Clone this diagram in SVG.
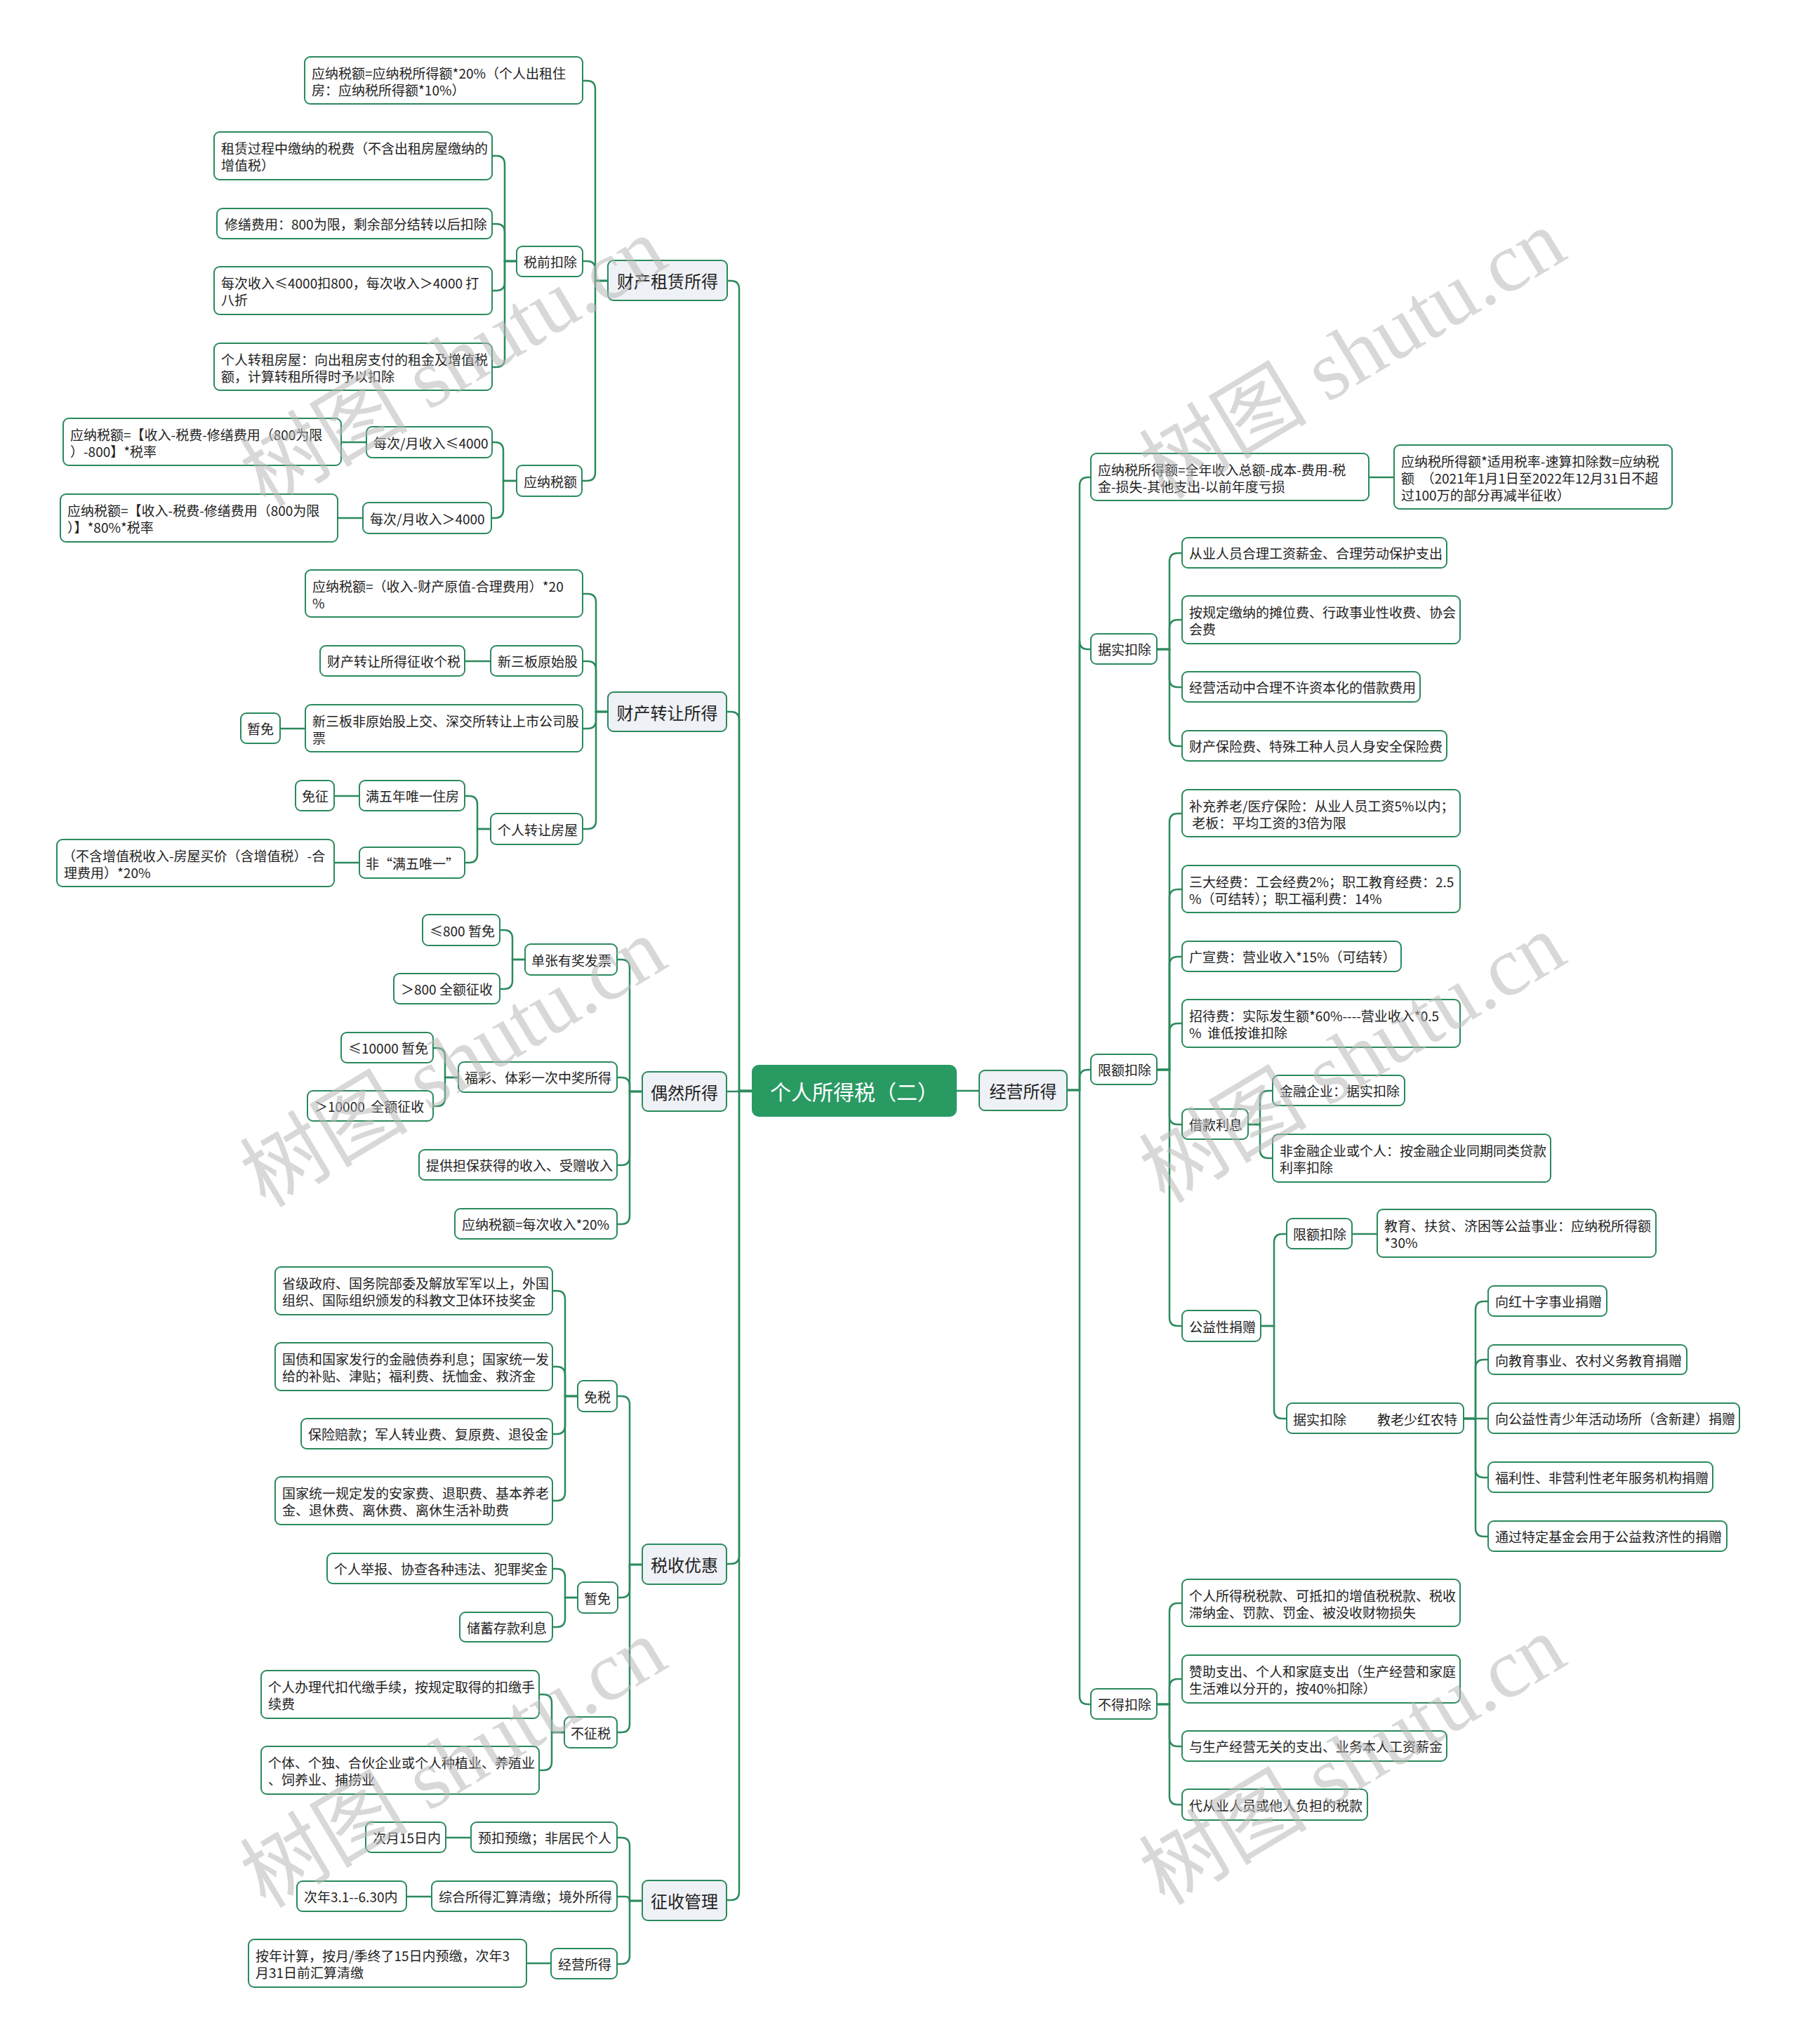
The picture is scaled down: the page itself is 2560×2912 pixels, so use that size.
<svg xmlns="http://www.w3.org/2000/svg" width="2560" height="2912" viewBox="0 0 2560 2912">
<style>
.n rect{fill:#fff;stroke:#2b8a5c;stroke-width:2}
.l1 rect{fill:#eef1f5;stroke:#2b8a5c;stroke-width:2}
.root rect{fill:#2a9a63;stroke:#2a9a63;stroke-width:2}
text{font-family:"Noto Sans CJK SC","Noto Sans",sans-serif;dominant-baseline:central;fill:#222}
.t{font-size:19px}
.l1 text{font-size:24px;text-anchor:middle}
.root text{font-size:30px;text-anchor:middle;fill:#fff}
.c path{fill:none;stroke:#2b8a5c;stroke-width:2.5}
.wm text{font-family:"Liberation Serif","Noto Sans CJK SC",serif;font-size:120px;fill:#b8b8b8;fill-opacity:0.55;text-anchor:middle}
</style>
<rect width="2560" height="2912" fill="#fff"/>
<g id="connectors" class="c">
<path d="M1072 1554 H1053 V412 Q1053 400 1041 400 H1036"/>
<path d="M1072 1554 H1053 V1026 Q1053 1014 1041 1014 H1035"/>
<path d="M1072 1555 H1035"/>
<path d="M1072 1554 H1053 V2216 Q1053 2228 1041 2228 H1035"/>
<path d="M1072 1554 H1053 V2695 Q1053 2707 1041 2707 H1035"/>
<path d="M1362 1554 H1395"/>
<path d="M1520 1553 H1538 V692 Q1538 680 1550 680 H1554"/>
<path d="M1520 1553 H1538 V913 Q1538 925 1550 925 H1554"/>
<path d="M1520 1553 H1538 V1536 Q1538 1524 1550 1524 H1554"/>
<path d="M1520 1553 H1538 V2416 Q1538 2428 1550 2428 H1554"/>
<path d="M866 400 H848 V127 Q848 115 836 115 H830"/>
<path d="M866 400 H848 V384 Q848 372 836 372 H830"/>
<path d="M866 400 H848 V673 Q848 685 836 685 H830"/>
<path d="M736 372 H719 V234 Q719 222 707 222 H701"/>
<path d="M736 372 H719 V331 Q719 319 707 319 H701"/>
<path d="M736 372 H719 V402 Q719 414 707 414 H701"/>
<path d="M736 372 H719 V511 Q719 523 707 523 H701"/>
<path d="M736 685 H717 V642 Q717 630 705 630 H701"/>
<path d="M736 685 H717 V726 Q717 738 705 738 H700"/>
<path d="M522 630 H486"/>
<path d="M517 738 H481"/>
<path d="M866 1014 H849 V858 Q849 846 837 846 H830"/>
<path d="M866 1014 H849 V954 Q849 942 837 942 H830"/>
<path d="M866 1014 H849 V1026 Q849 1038 837 1038 H830"/>
<path d="M866 1014 H849 V1169 Q849 1181 837 1181 H830"/>
<path d="M699 942 H662"/>
<path d="M435 1038 H399"/>
<path d="M699 1181 H680 V1146 Q680 1134 668 1134 H662"/>
<path d="M699 1181 H680 V1217 Q680 1229 668 1229 H662"/>
<path d="M512 1134 H476"/>
<path d="M512 1229 H476"/>
<path d="M915 1555 H897 V1379 Q897 1367 885 1367 H879"/>
<path d="M915 1555 H897 V1547 Q897 1535 885 1535 H879"/>
<path d="M915 1555 H897 V1648 Q897 1660 885 1660 H879"/>
<path d="M915 1555 H897 V1732 Q897 1744 885 1744 H879"/>
<path d="M748 1367 H730 V1337 Q730 1325 718 1325 H712"/>
<path d="M748 1367 H730 V1397 Q730 1409 718 1409 H712"/>
<path d="M653 1535 H634 V1505 Q634 1493 622 1493 H617"/>
<path d="M653 1535 H634 V1564 Q634 1576 622 1576 H617"/>
<path d="M915 2229 H897 V2001 Q897 1989 885 1989 H879"/>
<path d="M915 2229 H897 V2264 Q897 2276 885 2276 H879"/>
<path d="M915 2229 H897 V2456 Q897 2468 885 2468 H879"/>
<path d="M823 1989 H805 V1851 Q805 1839 793 1839 H787"/>
<path d="M823 1989 H805 V1959 Q805 1947 793 1947 H787"/>
<path d="M823 1989 H805 V2031 Q805 2043 793 2043 H787"/>
<path d="M823 1989 H805 V2126 Q805 2138 793 2138 H787"/>
<path d="M823 2276 H805 V2247 Q805 2235 793 2235 H787"/>
<path d="M823 2276 H805 V2306 Q805 2318 793 2318 H787"/>
<path d="M804 2468 H786 V2426 Q786 2414 774 2414 H768"/>
<path d="M804 2468 H786 V2510 Q786 2522 774 2522 H768"/>
<path d="M915 2708 H897 V2630 Q897 2618 885 2618 H879"/>
<path d="M915 2708 H897 Q897 2702 891 2702 H879"/>
<path d="M915 2708 H897 V2786 Q897 2798 885 2798 H879"/>
<path d="M671 2618 H635"/>
<path d="M615 2702 H579"/>
<path d="M785 2797 H750"/>
<path d="M1950 680 H1986"/>
<path d="M1648 925 H1666 V800 Q1666 788 1678 788 H1684"/>
<path d="M1648 925 H1666 V895 Q1666 883 1678 883 H1684"/>
<path d="M1648 925 H1666 V967 Q1666 979 1678 979 H1684"/>
<path d="M1648 925 H1666 V1051 Q1666 1063 1678 1063 H1684"/>
<path d="M1648 1524 H1666 V1171 Q1666 1159 1678 1159 H1684"/>
<path d="M1648 1524 H1666 V1279 Q1666 1267 1678 1267 H1684"/>
<path d="M1648 1524 H1666 V1375 Q1666 1363 1678 1363 H1684"/>
<path d="M1648 1524 H1666 V1470 Q1666 1458 1678 1458 H1684"/>
<path d="M1648 1524 H1666 V1590 Q1666 1602 1678 1602 H1684"/>
<path d="M1648 1524 H1666 V1877 Q1666 1889 1678 1889 H1684"/>
<path d="M1778 1602 H1795 V1566 Q1795 1554 1807 1554 H1813"/>
<path d="M1778 1602 H1795 V1638 Q1795 1650 1807 1650 H1813"/>
<path d="M1796 1889 H1815 V1770 Q1815 1758 1827 1758 H1833"/>
<path d="M1796 1889 H1815 V2009 Q1815 2021 1827 2021 H1833"/>
<path d="M1926 1758 H1962"/>
<path d="M2085 2021 H2102 V1866 Q2102 1854 2114 1854 H2120"/>
<path d="M2085 2021 H2102 V1949 Q2102 1937 2114 1937 H2120"/>
<path d="M2085 2021 H2120"/>
<path d="M2085 2021 H2102 V2093 Q2102 2105 2114 2105 H2120"/>
<path d="M2085 2021 H2102 V2177 Q2102 2189 2114 2189 H2120"/>
<path d="M1648 2428 H1666 V2296 Q1666 2284 1678 2284 H1684"/>
<path d="M1648 2428 H1666 V2404 Q1666 2392 1678 2392 H1684"/>
<path d="M1648 2428 H1666 V2476 Q1666 2488 1678 2488 H1684"/>
<path d="M1648 2428 H1666 V2559 Q1666 2571 1678 2571 H1684"/>
</g>
<g id="root" class="root"><rect x="1072" y="1518" width="290" height="72" rx="9"/><text x="1217" y="1554">个人所得税（二）</text></g>
<g id="l1-zulin" class="l1"><rect x="866" y="371" width="170" height="57" rx="8"/><text x="951" y="399.5">财产租赁所得</text></g>
<g id="l1-zhuanrang" class="l1"><rect x="866" y="986" width="169" height="56" rx="8"/><text x="950.5" y="1014">财产转让所得</text></g>
<g id="l1-ouran" class="l1"><rect x="915" y="1527" width="120" height="56" rx="8"/><text x="975" y="1555">偶然所得</text></g>
<g id="l1-youhui" class="l1"><rect x="915" y="2200" width="120" height="57" rx="8"/><text x="975" y="2228.5">税收优惠</text></g>
<g id="l1-guanli" class="l1"><rect x="915" y="2679" width="120" height="57" rx="8"/><text x="975" y="2707.5">征收管理</text></g>
<g id="l1-jingying" class="l1"><rect x="1395" y="1525" width="125" height="57" rx="8"/><text x="1457.5" y="1553.5">经营所得</text></g>
<g id="n1" class="n"><rect x="434" y="81" width="396" height="67" rx="8"/><text class="t"><tspan x="444" y="102.5">应纳税额=应纳税所得额*20%（个人出租住</tspan><tspan x="444" y="126.5">房：应纳税所得额*10%）</tspan></text></g>
<g id="n2" class="n"><rect x="305" y="188" width="396" height="68" rx="8"/><text class="t"><tspan x="315" y="210">租赁过程中缴纳的税费（不含出租房屋缴纳的</tspan><tspan x="315" y="234">增值税）</tspan></text></g>
<g id="n3" class="n"><rect x="309" y="297" width="392" height="43" rx="8"/><text class="t" x="320" y="318.5">修缮费用：800为限，剩余部分结转以后扣除</text></g>
<g id="n4" class="n"><rect x="305" y="380" width="396" height="68" rx="8"/><text class="t"><tspan x="315" y="402">每次收入≤4000扣800，每次收入＞4000 打</tspan><tspan x="315" y="426">八折</tspan></text></g>
<g id="n5" class="n"><rect x="305" y="489" width="396" height="67" rx="8"/><text class="t"><tspan x="315" y="510.5">个人转租房屋：向出租房支付的租金及增值税</tspan><tspan x="315" y="534.5">额，计算转租所得时予以扣除</tspan></text></g>
<g id="n6" class="n"><rect x="736" y="351" width="94" height="43" rx="8"/><text class="t" x="746" y="372.5">税前扣除</text></g>
<g id="n7" class="n"><rect x="90" y="596" width="396" height="67" rx="8"/><text class="t"><tspan x="100" y="617.5">应纳税额=【收入-税费-修缮费用（800为限</tspan><tspan x="100" y="641.5">）-800】*税率</tspan></text></g>
<g id="n8" class="n"><rect x="522" y="608" width="179" height="44" rx="8"/><text class="t" x="532" y="630">每次/月收入≤4000</text></g>
<g id="n9" class="n"><rect x="86" y="704" width="395" height="68" rx="8"/><text class="t"><tspan x="96" y="726">应纳税额=【收入-税费-修缮费用（800为限</tspan><tspan x="96" y="750">）】*80%*税率</tspan></text></g>
<g id="n10" class="n"><rect x="517" y="716" width="183" height="44" rx="8"/><text class="t" x="527" y="738">每次/月收入＞4000</text></g>
<g id="n11" class="n"><rect x="736" y="663" width="93" height="44" rx="8"/><text class="t" x="746" y="685">应纳税额</text></g>
<g id="n12" class="n"><rect x="435" y="812" width="395" height="67" rx="8"/><text class="t"><tspan x="445" y="833.5">应纳税额=（收入-财产原值-合理费用）*20</tspan><tspan x="445" y="857.5">%</tspan></text></g>
<g id="n13" class="n"><rect x="456" y="920" width="206" height="43" rx="8"/><text class="t" x="466" y="941.5">财产转让所得征收个税</text></g>
<g id="n14" class="n"><rect x="699" y="920" width="131" height="43" rx="8"/><text class="t" x="709" y="941.5">新三板原始股</text></g>
<g id="n15" class="n"><rect x="435" y="1004" width="395" height="67" rx="8"/><text class="t"><tspan x="445" y="1025.5">新三板非原始股上交、深交所转让上市公司股</tspan><tspan x="445" y="1049.5">票</tspan></text></g>
<g id="n16" class="n"><rect x="343" y="1016" width="56" height="43" rx="8"/><text class="t" x="352" y="1037.5">暂免</text></g>
<g id="n17" class="n"><rect x="421" y="1112" width="55" height="43" rx="8"/><text class="t" x="430" y="1133.5">免征</text></g>
<g id="n18" class="n"><rect x="512" y="1112" width="150" height="43" rx="8"/><text class="t" x="521" y="1133.5">满五年唯一住房</text></g>
<g id="n19" class="n"><rect x="699" y="1159" width="131" height="44" rx="8"/><text class="t" x="709" y="1181">个人转让房屋</text></g>
<g id="n20" class="n"><rect x="81" y="1196" width="395" height="67" rx="8"/><text class="t"><tspan x="89" y="1217.5">（不含增值税收入-房屋买价（含增值税）-合</tspan><tspan x="91" y="1241.5">理费用）*20%</tspan></text></g>
<g id="n21" class="n"><rect x="512" y="1207" width="150" height="44" rx="8"/><text class="t" x="521" y="1229">非“满五唯一”</text></g>
<g id="n22" class="n"><rect x="602" y="1303" width="110" height="44" rx="8"/><text class="t" x="612" y="1325">≤800 暂免</text></g>
<g id="n23" class="n"><rect x="561" y="1387" width="151" height="43" rx="8"/><text class="t" x="571" y="1408.5">＞800 全额征收</text></g>
<g id="n24" class="n"><rect x="748" y="1345" width="131" height="44" rx="8"/><text class="t" x="757" y="1367">单张有奖发票</text></g>
<g id="n25" class="n"><rect x="486" y="1471" width="131" height="43" rx="8"/><text class="t" x="496" y="1492.5">≤10000 暂免</text></g>
<g id="n26" class="n"><rect x="438" y="1554" width="179" height="43" rx="8"/><text class="t" x="448" y="1575.5" xml:space="preserve">＞10000  全额征收</text></g>
<g id="n27" class="n"><rect x="653" y="1513" width="226" height="43" rx="8"/><text class="t" x="662" y="1534.5">福彩、体彩一次中奖所得</text></g>
<g id="n28" class="n"><rect x="597" y="1638" width="282" height="43" rx="8"/><text class="t" x="607" y="1659.5">提供担保获得的收入、受赠收入</text></g>
<g id="n29" class="n"><rect x="648" y="1722" width="231" height="43" rx="8"/><text class="t" x="658" y="1743.5">应纳税额=每次收入*20%</text></g>
<g id="n30" class="n"><rect x="392" y="1805" width="395" height="68" rx="8"/><text class="t"><tspan x="402" y="1827">省级政府、国务院部委及解放军军以上，外国</tspan><tspan x="402" y="1851">组织、国际组织颁发的科教文卫体环技奖金</tspan></text></g>
<g id="n31" class="n"><rect x="392" y="1913" width="395" height="68" rx="8"/><text class="t"><tspan x="402" y="1935">国债和国家发行的金融债券利息；国家统一发</tspan><tspan x="402" y="1959">给的补贴、津贴；福利费、抚恤金、救济金</tspan></text></g>
<g id="n32" class="n"><rect x="429" y="2021" width="358" height="43" rx="8"/><text class="t" x="439" y="2042.5">保险赔款；军人转业费、复原费、退役金</text></g>
<g id="n33" class="n"><rect x="392" y="2104" width="395" height="68" rx="8"/><text class="t"><tspan x="402" y="2126">国家统一规定发的安家费、退职费、基本养老</tspan><tspan x="402" y="2150">金、退休费、离休费、离休生活补助费</tspan></text></g>
<g id="n34" class="n"><rect x="823" y="1967" width="56" height="44" rx="8"/><text class="t" x="832" y="1989">免税</text></g>
<g id="n35" class="n"><rect x="466" y="2213" width="321" height="43" rx="8"/><text class="t" x="476" y="2234.5">个人举报、协查各种违法、犯罪奖金</text></g>
<g id="n36" class="n"><rect x="823" y="2254" width="57" height="44" rx="8"/><text class="t" x="832" y="2276">暂免</text></g>
<g id="n37" class="n"><rect x="655" y="2297" width="132" height="42" rx="8"/><text class="t" x="665" y="2318">储蓄存款利息</text></g>
<g id="n38" class="n"><rect x="372" y="2380" width="396" height="68" rx="8"/><text class="t"><tspan x="382" y="2402">个人办理代扣代缴手续，按规定取得的扣缴手</tspan><tspan x="382" y="2426">续费</tspan></text></g>
<g id="n39" class="n"><rect x="804" y="2446" width="75" height="44" rx="8"/><text class="t" x="813" y="2468">不征税</text></g>
<g id="n40" class="n"><rect x="372" y="2488" width="396" height="68" rx="8"/><text class="t"><tspan x="382" y="2510">个体、个独、合伙企业或个人种植业、养殖业</tspan><tspan x="382" y="2534">、饲养业、捕捞业</tspan></text></g>
<g id="n41" class="n"><rect x="521" y="2596" width="114" height="43" rx="8"/><text class="t" x="531" y="2617.5">次月15日内</text></g>
<g id="n42" class="n"><rect x="671" y="2596" width="208" height="43" rx="8"/><text class="t" x="681" y="2617.5">预扣预缴；非居民个人</text></g>
<g id="n43" class="n"><rect x="423" y="2680" width="156" height="43" rx="8"/><text class="t" x="433" y="2701.5">次年3.1--6.30内</text></g>
<g id="n44" class="n"><rect x="615" y="2680" width="264" height="43" rx="8"/><text class="t" x="625" y="2701.5">综合所得汇算清缴；境外所得</text></g>
<g id="n45" class="n"><rect x="354" y="2763" width="396" height="68" rx="8"/><text class="t"><tspan x="364" y="2785">按年计算，按月/季终了15日内预缴，次年3</tspan><tspan x="364" y="2809">月31日前汇算清缴</tspan></text></g>
<g id="n46" class="n"><rect x="785" y="2776" width="94" height="43" rx="8"/><text class="t" x="795" y="2797.5">经营所得</text></g>
<g id="n47" class="n"><rect x="1554" y="646" width="396" height="67" rx="8"/><text class="t"><tspan x="1564" y="667.5">应纳税所得额=全年收入总额-成本-费用-税</tspan><tspan x="1564" y="691.5">金-损失-其他支出-以前年度亏损</tspan></text></g>
<g id="n48" class="n"><rect x="1986" y="634" width="396" height="91" rx="8"/><text class="t"><tspan x="1996" y="655.5">应纳税所得额*适用税率-速算扣除数=应纳税</tspan><tspan x="1996" y="679.5">额　（2021年1月1日至2022年12月31日不超</tspan><tspan x="1996" y="703.5">过100万的部分再减半征收）</tspan></text></g>
<g id="n49" class="n"><rect x="1554" y="903" width="94" height="43" rx="8"/><text class="t" x="1564" y="924.5">据实扣除</text></g>
<g id="n50" class="n"><rect x="1684" y="766" width="377" height="43" rx="8"/><text class="t" x="1694" y="787.5">从业人员合理工资薪金、合理劳动保护支出</text></g>
<g id="n51" class="n"><rect x="1684" y="849" width="396" height="68" rx="8"/><text class="t"><tspan x="1694" y="871">按规定缴纳的摊位费、行政事业性收费、协会</tspan><tspan x="1694" y="895">会费</tspan></text></g>
<g id="n52" class="n"><rect x="1684" y="957" width="339" height="43" rx="8"/><text class="t" x="1694" y="978.5">经营活动中合理不许资本化的借款费用</text></g>
<g id="n53" class="n"><rect x="1684" y="1041" width="377" height="43" rx="8"/><text class="t" x="1694" y="1062.5">财产保险费、特殊工种人员人身安全保险费</text></g>
<g id="n54" class="n"><rect x="1554" y="1502" width="94" height="43" rx="8"/><text class="t" x="1564" y="1523.5">限额扣除</text></g>
<g id="n55" class="n"><rect x="1684" y="1125" width="396" height="67" rx="8"/><text class="t"><tspan x="1694" y="1146.5">补充养老/医疗保险：从业人员工资5%以内；</tspan><tspan x="1694" y="1170.5"> 老板：平均工资的3倍为限</tspan></text></g>
<g id="n56" class="n"><rect x="1684" y="1233" width="396" height="67" rx="8"/><text class="t"><tspan x="1694" y="1254.5">三大经费：工会经费2%；职工教育经费：2.5</tspan><tspan x="1694" y="1278.5">%（可结转）；职工福利费：14%</tspan></text></g>
<g id="n57" class="n"><rect x="1684" y="1341" width="312" height="43" rx="8"/><text class="t" x="1694" y="1362.5">广宣费：营业收入*15%（可结转）</text></g>
<g id="n58" class="n"><rect x="1684" y="1424" width="396" height="68" rx="8"/><text class="t"><tspan x="1694" y="1446">招待费：实际发生额*60%----营业收入*0.5</tspan><tspan x="1694" y="1470" xml:space="preserve">%  谁低按谁扣除</tspan></text></g>
<g id="n59" class="n"><rect x="1684" y="1580" width="94" height="43" rx="8"/><text class="t" x="1694" y="1601.5">借款利息</text></g>
<g id="n60" class="n"><rect x="1813" y="1532" width="188" height="43" rx="8"/><text class="t" x="1823" y="1553.5">金融企业：据实扣除</text></g>
<g id="n61" class="n"><rect x="1813" y="1616" width="396" height="68" rx="8"/><text class="t"><tspan x="1823" y="1638">非金融企业或个人：按金融企业同期同类贷款</tspan><tspan x="1823" y="1662">利率扣除</tspan></text></g>
<g id="n62" class="n"><rect x="1684" y="1867" width="112" height="44" rx="8"/><text class="t" x="1694" y="1889">公益性捐赠</text></g>
<g id="n63" class="n"><rect x="1833" y="1736" width="93" height="43" rx="8"/><text class="t" x="1842" y="1757.5">限额扣除</text></g>
<g id="n64" class="n"><rect x="1962" y="1723" width="397" height="68" rx="8"/><text class="t"><tspan x="1972" y="1745">教育、扶贫、济困等公益事业：应纳税所得额</tspan><tspan x="1972" y="1769">*30%</tspan></text></g>
<g id="n65" class="n"><rect x="1833" y="1999" width="252" height="43" rx="8"/><text class="t" y="2020.5"><tspan x="1842">据实扣除</tspan><tspan x="1962">教老少红农特</tspan></text></g>
<g id="n66" class="n"><rect x="2120" y="1832" width="169" height="43" rx="8"/><text class="t" x="2130" y="1853.5">向红十字事业捐赠</text></g>
<g id="n67" class="n"><rect x="2120" y="1916" width="283" height="42" rx="8"/><text class="t" x="2130" y="1937">向教育事业、农村义务教育捐赠</text></g>
<g id="n68" class="n"><rect x="2120" y="1999" width="358" height="43" rx="8"/><text class="t" x="2130" y="2020.5">向公益性青少年活动场所（含新建）捐赠</text></g>
<g id="n69" class="n"><rect x="2120" y="2083" width="320" height="43" rx="8"/><text class="t" x="2130" y="2104.5">福利性、非营利性老年服务机构捐赠</text></g>
<g id="n70" class="n"><rect x="2120" y="2167" width="340" height="43" rx="8"/><text class="t" x="2130" y="2188.5">通过特定基金会用于公益救济性的捐赠</text></g>
<g id="n71" class="n"><rect x="1554" y="2406" width="94" height="43" rx="8"/><text class="t" x="1564" y="2427.5">不得扣除</text></g>
<g id="n72" class="n"><rect x="1684" y="2250" width="396" height="67" rx="8"/><text class="t"><tspan x="1694" y="2271.5">个人所得税税款、可抵扣的增值税税款、税收</tspan><tspan x="1694" y="2295.5">滞纳金、罚款、罚金、被没收财物损失</tspan></text></g>
<g id="n73" class="n"><rect x="1684" y="2358" width="396" height="68" rx="8"/><text class="t"><tspan x="1694" y="2380">赞助支出、个人和家庭支出（生产经营和家庭</tspan><tspan x="1694" y="2404">生活难以分开的，按40%扣除）</tspan></text></g>
<g id="n74" class="n"><rect x="1684" y="2466" width="377" height="43" rx="8"/><text class="t" x="1694" y="2487.5">与生产经营无关的支出、业务本人工资薪金</text></g>
<g id="n75" class="n"><rect x="1684" y="2549" width="264" height="44" rx="8"/><text class="t" x="1694" y="2571">代从业人员或他人负担的税款</text></g>
<g id="watermark" class="wm">
<text transform="translate(646 516) rotate(-31)">树图 shutu.cn</text>
<text transform="translate(1927 505) rotate(-31)">树图 shutu.cn</text>
<text transform="translate(646 1514) rotate(-31)">树图 shutu.cn</text>
<text transform="translate(1927 1508) rotate(-31)">树图 shutu.cn</text>
<text transform="translate(646 2512) rotate(-31)">树图 shutu.cn</text>
<text transform="translate(1927 2508) rotate(-31)">树图 shutu.cn</text>
</g>
</svg>
